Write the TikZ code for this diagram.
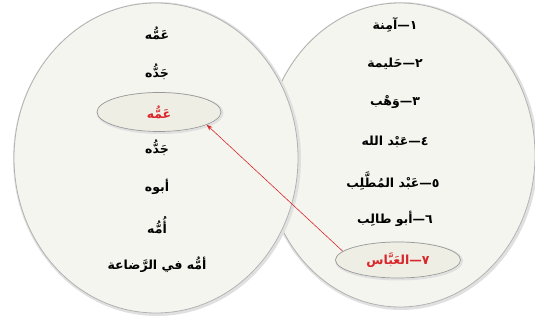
\documentclass[tikz,border=0pt]{standalone}
\usepackage{fontspec}
\usetikzlibrary{shapes.geometric,arrows.meta}
\newfontfamily\arabicfont[Script=Arabic]{DejaVu Sans}
\TeXXeTstate=1
\newcommand\artxt[1]{{\arabicfont\bfseries\beginR #1\endR}}
\definecolor{paper}{HTML}{F5F5EF}
\definecolor{inner}{HTML}{EEEEE4}
\definecolor{redtxt}{HTML}{D9262B}
\tikzset{
  bigell/.style={ellipse, fill=paper, draw=black!30, line width=0.8pt, inner sep=0pt},
  bigshadow/.style={ellipse, draw=black!12, line width=3pt, inner sep=0pt},
  smallell/.style={ellipse, fill=inner, draw=black!40, line width=0.7pt, inner sep=0pt},
  lbl/.style={font=\fontsize{12.5}{14}\selectfont, text=black, inner sep=1pt},
  redlbl/.style={lbl, text=redtxt},
  link/.style={draw=redtxt, line width=0.6pt, -{Stealth[length=6pt,width=4.5pt]}}
}
\begin{document}
\begin{tikzpicture}[x=1pt,y=-1pt]
\useasboundingbox (0,0) rectangle (535,320);
% right ellipse
\node[bigshadow, minimum width=271pt, minimum height=305pt] (Rs) at (401,156) {};
\node[bigell, minimum width=270pt, minimum height=304pt] (R) at (400,155) {};
% left ellipse
\node[bigshadow, minimum width=285pt, minimum height=311pt] (Ls) at (157,159) {};
\node[bigell, minimum width=284pt, minimum height=310pt] (L) at (156,158) {};
% small highlighted ellipses
\node[bigshadow, line width=2pt, minimum width=125pt, minimum height=40pt] (L3s) at (160,113) {};
\node[smallell, minimum width=124pt, minimum height=39pt] (L3) at (159,112) {};
\node[bigshadow, line width=2pt, minimum width=126pt, minimum height=37pt] (R7s) at (399,261) {};
\node[smallell, minimum width=125pt, minimum height=36pt] (R7) at (398,260) {};
% left labels
\node[lbl] (l1) at (157,33) {\artxt{عَمُّه}};
\node[lbl] (l2) at (157,72) {\artxt{جَدُّه}};
\node[redlbl] (l3) at (L3) {\artxt{عَمُّه}};
\node[lbl] (l4) at (157,148) {\artxt{جَدُّه}};
\node[lbl] (l5) at (157,187) {\artxt{أبوه}};
\node[lbl] (l6) at (157,225) {\artxt{أُمُّه}};
\node[lbl] (l7) at (157,265) {\artxt{أمُّه في الرَّضاعة}};
% right labels
\node[lbl] (r1) at (395,25) {\artxt{١—آمِنة}};
\node[lbl] (r2) at (395,64) {\artxt{٢—حَليمة}};
\node[lbl] (r3) at (395,102) {\artxt{٣—وَهْب}};
\node[lbl] (r4) at (395,142) {\artxt{٤—عَبْد الله}};
\node[lbl] (r5) at (393,181) {\artxt{٥—عَبْد المُطَّلِب}};
\node[lbl] (r6) at (395,219) {\artxt{٦—أبو طالِب}};
\node[redlbl] (r7) at (R7) {\artxt{٧—العَبَّاس}};
% arrow
\draw[link] (R7.171) -- (L3.-15);
\end{tikzpicture}
\end{document}
